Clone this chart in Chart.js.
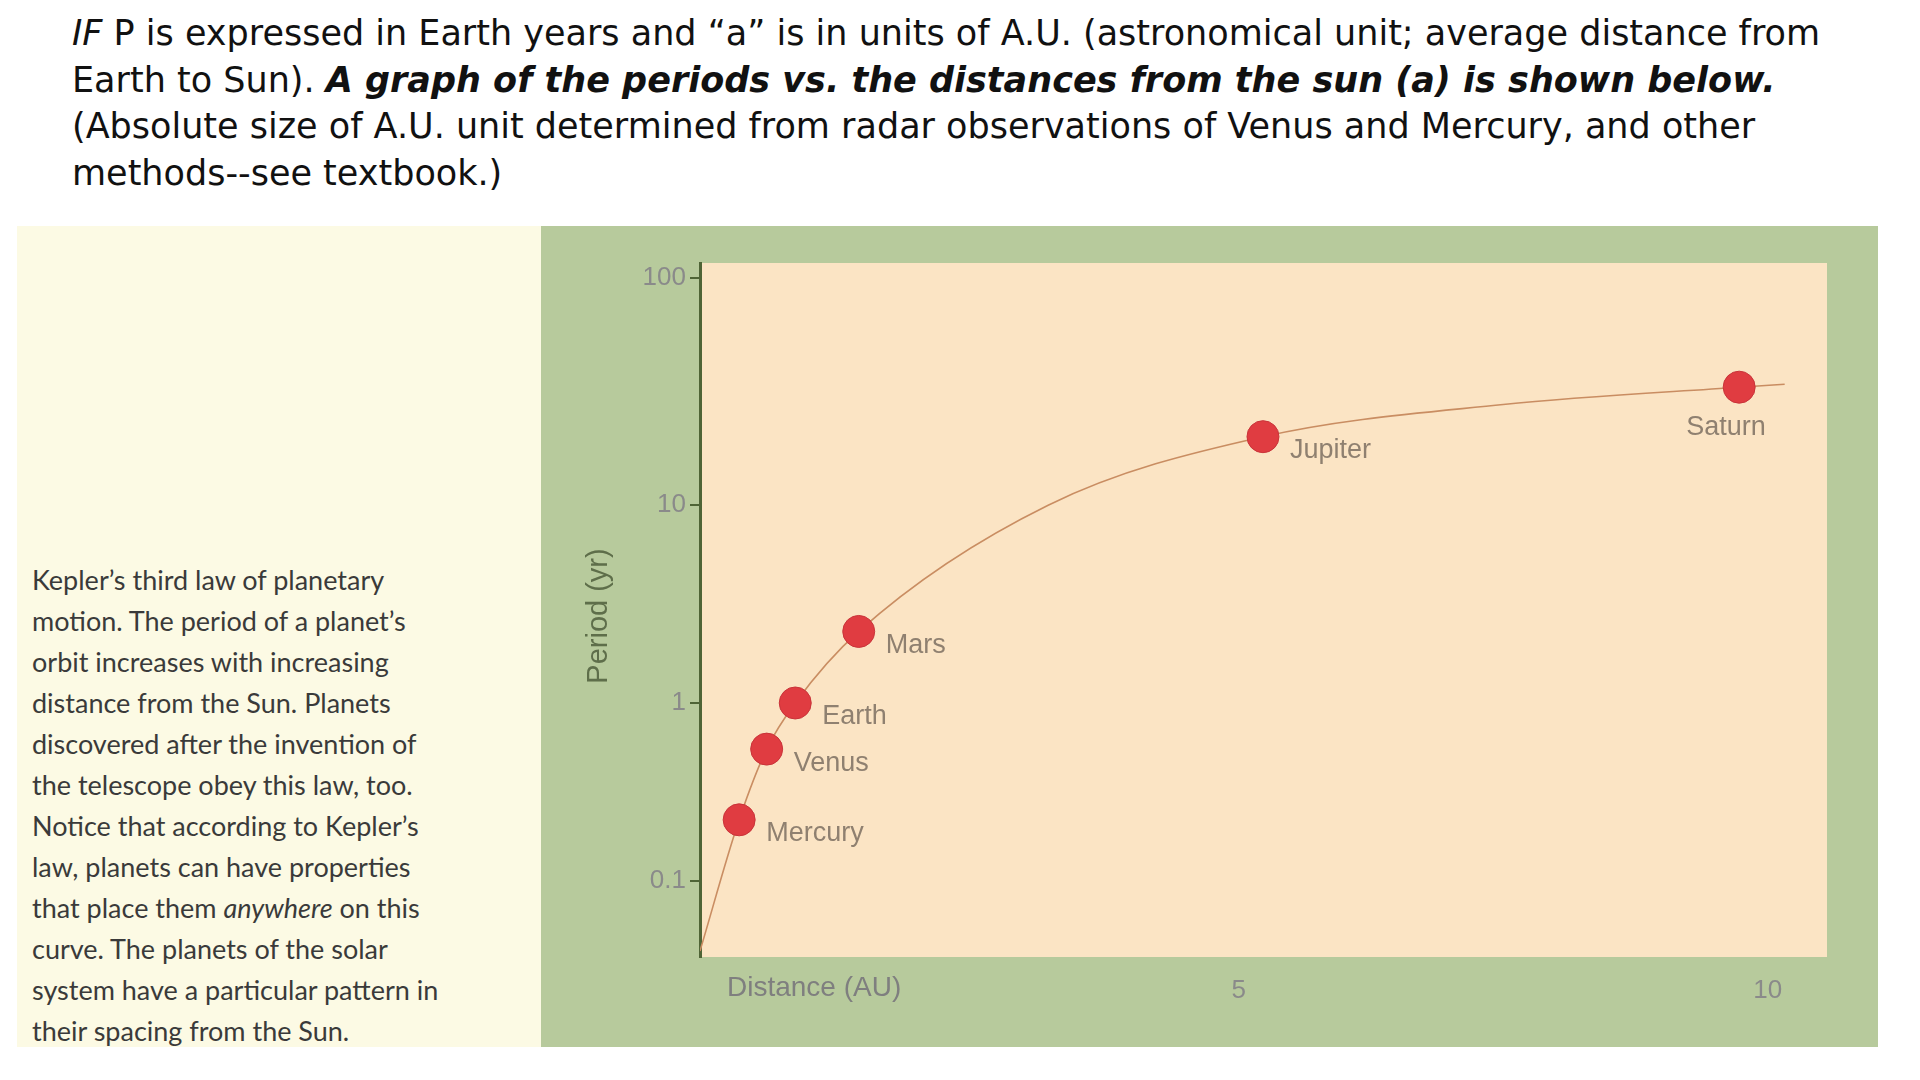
<!DOCTYPE html>
<html>
<head>
<meta charset="utf-8">
<script src="https://cdn.jsdelivr.net/npm/chart.js@4"></script>
<style>
  body { margin: 0; width: 1920px; height: 1080px; background: #fff; position: relative; overflow: hidden; }
  #intro { position: absolute; left: 72px; top: 10px; width: 1840px; font-family: "DejaVu Sans", sans-serif; font-size: 35px; line-height: 46.6px; color: #111; }
  #left { position: absolute; left: 17px; top: 226px; width: 524px; height: 821px; background: #fcfae4; }
  #caption { position: absolute; left: 15px; top: 333px; width: 425px; font-family: Lato, sans-serif; font-size: 27px; line-height: 41px; color: #3a3a3a; }
  #green { position: absolute; left: 541px; top: 226px; width: 1337px; height: 821px; background: #b7ca9c; }
</style>
</head>
<body>
<div id="intro"><i>IF</i> P is expressed in Earth years and “a” is in units of A.U. (astronomical unit; average distance from Earth to Sun). <b><i>A graph of the periods vs. the distances from the sun (a) is shown below.</i></b><br>(Absolute size of A.U. unit determined from radar observations of Venus and Mercury, and other methods--see textbook.)</div>
<div id="left"><div id="caption">Kepler’s third law of planetary motion. The period of a planet’s orbit increases with increasing distance from the Sun. Planets discovered after the invention of the telescope obey this law, too. Notice that according to Kepler’s law, planets can have properties that place them <i>anywhere</i> on this curve. The planets of the solar system have a particular pattern in their spacing from the Sun.</div></div>
<div id="green"><canvas id="c" width="1337" height="821"></canvas></div>
<script>
// values, in its own (uneven) axis units
const planets = ['Mercury', 'Venus', 'Earth', 'Mars', 'Jupiter', 'Saturn'];
const distances = [0.28, 0.54, 0.81, 1.41, 5.23, 9.73];
const periods = [0.22, 0.55, 1.0, 2.3, 20, 33];
const curveX = [-0.09, 0.28, 0.54, 0.81, 1.41, 3.2, 5.23, 7.5, 9.73, 10.16];
const curveY = [0.04, 0.22, 0.55, 1.0, 2.3, 10, 20, 27.7, 33, 34];
const yTicks = [0.1, 1, 10, 100];
const xTicks = [5, 10];

// the printed axis has uneven decades, so map each decade onto its own stretch
const knotsLog = [Math.log10(0.037), -1, 0, 1, 2, Math.log10(116)];
const knotsFrac = [0, 0.110, 0.366, 0.651, 0.979, 1];

class PieceLogScale extends Chart.LogarithmicScale {
    fracOf(v) {
        const l = Math.log10(v);
        for (let i = 1; i < knotsLog.length; i++) {
            if (l <= knotsLog[i] || i === knotsLog.length - 1) {
                const t = (l - knotsLog[i - 1]) / (knotsLog[i] - knotsLog[i - 1]);
                return knotsFrac[i - 1] + t * (knotsFrac[i] - knotsFrac[i - 1]);
            }
        }
    }
    getPixelForValue(v) {
        return this.bottom - this.fracOf(v) * (this.bottom - this.top);
    }
    getPixelForTick(i) {
        return this.getPixelForValue(this.ticks[i].value);
    }
}
PieceLogScale.id = 'piecelog';
PieceLogScale.defaults = Chart.LogarithmicScale.defaults;
Chart.register(PieceLogScale);

const decor = {
    id: 'decor',
    beforeDraw(chart) {
        const { ctx, chartArea: a } = chart;
        ctx.save();
        ctx.fillStyle = '#fbe4c4';
        ctx.fillRect(a.left, a.top, a.right - a.left, a.bottom - a.top);
        ctx.restore();
    },
    afterDraw(chart) {
        const { ctx, scales } = chart;
        ctx.save();
        ctx.font = '27px "Liberation Sans", Arial, sans-serif';
        ctx.fillStyle = '#8f8070';
        ctx.textBaseline = 'middle';
        planets.forEach((p, i) => {
            const x = scales.x.getPixelForValue(distances[i]);
            const y = scales.y.getPixelForValue(periods[i]);
            if (p === 'Saturn') ctx.fillText(p, x - 53, y + 40);
            else ctx.fillText(p, x + 27, y + 14);
        });
        ctx.fillStyle = '#7f7f7f';
        ctx.font = '28px "Liberation Sans", Arial, sans-serif';
        ctx.fillText('Distance (AU)', 186, 762);
        ctx.translate(58, 390);
        ctx.rotate(-Math.PI / 2);
        ctx.textAlign = 'center';
        ctx.fillStyle = '#5e6e4a';
        ctx.font = '29px "Liberation Sans", Arial, sans-serif';
        ctx.fillText('Period (yr)', 0, 0);
        ctx.restore();
    }
};

new Chart(document.getElementById('c').getContext('2d'), {
    type: 'scatter',
    data: {
        datasets: [{
            type: 'line',
            data: curveX.map((x, i) => ({ x: x, y: curveY[i] })),
            borderColor: '#c98d62',
            borderWidth: 1.6,
            pointRadius: 0,
            cubicInterpolationMode: 'monotone',
            order: 2
        }, {
            data: distances.map((x, i) => ({ x: x, y: periods[i] })),
            backgroundColor: '#e03c41',
            borderColor: '#c9343a',
            borderWidth: 1,
            pointRadius: 16,
            order: 1
        }]
    },
    options: {
        responsive: false,
        animation: false,
        layout: { padding: { top: 37, right: 51, left: 0, bottom: 0 } },
        plugins: { legend: { display: false }, tooltip: { enabled: false } },
        scales: {
            x: {
                type: 'linear', min: -0.09, max: 10.56,
                afterBuildTicks: s => { s.ticks = xTicks.map(v => ({ value: v })); },
                afterFit: s => { s.height = 90; },
                grid: { display: false },
                border: { display: false },
                ticks: { color: '#8a8a8a', font: { size: 26, family: '"Liberation Sans", Arial' }, padding: 10 }
            },
            y: {
                type: 'piecelog', min: 0.037, max: 116,
                afterBuildTicks: s => { s.ticks = yTicks.map(v => ({ value: v })); },
                afterFit: s => { s.width = 159; },
                grid: { drawOnChartArea: false, drawTicks: true, tickLength: 10, color: '#4f6436', lineWidth: 2 },
                border: { display: true, color: '#4f6436', width: 3 },
                ticks: { color: '#8a8a8a', padding: 4, font: { size: 26, family: '"Liberation Sans", Arial' }, callback: v => String(v) }
            }
        }
    },
    plugins: [decor]
});
</script>
</body>
</html>
